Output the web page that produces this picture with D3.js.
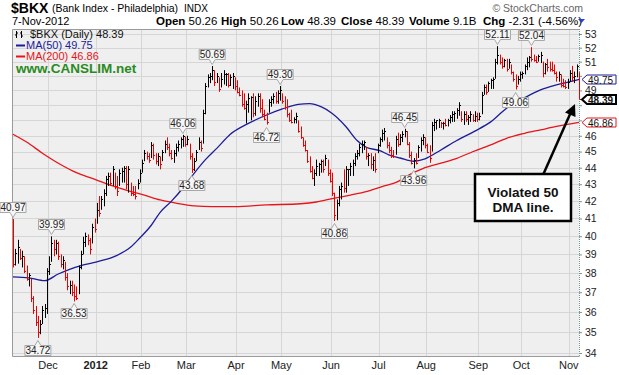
<!DOCTYPE html>
<html><head><meta charset="utf-8">
<script src="https://cdn.jsdelivr.net/npm/d3@7"></script>
<style>
body{margin:0;background:#fff}
svg{display:block;font-family:"Liberation Sans",Arial,sans-serif}
</style>
</head><body>
<svg id="c" width="619" height="375"></svg>
<script>
// ---------- DATA ----------
const firstDay = "2011-11-08", lastDay = "2012-11-07";
const holidays = ["2011-11-24","2011-12-26","2012-01-02","2012-01-16","2012-02-20","2012-04-06",
  "2012-05-28","2012-07-04","2012-09-03","2012-10-29","2012-10-30"];

const highs = [
40.97,39.3,39.8,39.3,39.2,38.9,38.4,38.0,37.7,36.8,36.3,35.8,35.6,36.3,36.4,38.26,
38.9,39.99,39.8,39.8,39.7,39.0,38.9,38.6,38.0,37.6,37.6,37.4,37.3,38.4,39.2,39.97,40.2,40.1,39.9,40.7,41.0,
41.9,42.3,42.3,42.7,43.5,43.7,43.7,44.1,43.7,43.5,43.9,44.0,44.1,44.1,44.1,43.1,42.9,42.9,43.3,43.9,
44.5,45.1,45.0,44.9,45.6,45.5,44.9,44.9,44.7,45.1,45.7,45.9,45.5,45.1,45.1,45.5,45.7,45.9,46.06,45.95,
46.0,45.5,44.9,44.6,45.1,45.9,45.7,47.7,49.5,50.1,50.2,50.69,50.4,50.2,49.9,50.2,50.4,50.2,50.2,50.1,50.2,49.9,
49.7,49.2,49.0,48.8,48.3,48.8,48.6,48.8,48.6,48.8,48.8,48.4,47.7,47.5,48.4,48.6,48.8,48.9,49.0,49.30,
48.8,48.6,48.4,47.5,47.7,47.2,47.5,47.0,46.6,45.9,45.7,45.1,44.7,44.1,43.9,44.5,44.3,44.5,44.5,44.8,44.5,43.9,
43.7,42.5,42.1,42.9,43.1,43.9,44.1,43.9,44.3,44.5,44.9,45.1,45.5,45.7,45.7,45.3,44.9,44.9,44.7,44.9,45.5,
45.9,46.4,46.5,45.9,45.6,45.3,45.1,46.0,46.2,46.1,46.3,46.45,46.3,45.6,45.0,44.6,44.9,45.4,45.9,46.1,45.9,
45.5,45.4,46.9,47.1,47.0,47.1,46.9,46.9,47.1,47.1,47.35,47.6,47.6,47.8,48.2,47.6,47.6,47.6,47.35,47.6,47.4,47.6,47.5,
47.5,48.9,49.4,49.4,49.6,49.8,49.9,51.2,52.11,51.5,51.3,51.2,51.2,51.2,50.8,50.3,50.1,50.0,50.3,
50.3,50.8,51.3,51.4,52.04,51.5,51.4,51.5,51.7,51.0,50.9,51.2,51.0,51.0,50.8,50.3,50.3,50.1,49.8,49.7,49.8,
50.4,50.7,50.3,50.8,50.26];

const lows = [
38.3,38.4,38.5,38.7,38.3,38.0,37.6,37.3,36.5,35.9,35.3,34.72,34.9,35.4,35.7,35.9,
37.9,38.6,38.9,39.0,38.7,38.3,38.2,37.6,37.1,36.9,36.8,36.53,36.6,36.9,38.2,39.0,39.4,39.5,39.0,39.6,40.2,
40.7,41.1,41.5,41.7,42.3,42.9,42.9,42.9,42.7,42.3,42.9,43.1,43.1,42.7,42.5,42.3,42.3,42.1,42.7,43.1,
43.7,44.4,44.5,44.3,44.6,44.5,44.2,44.1,43.9,44.4,44.9,45.1,44.7,44.5,44.3,44.7,45.0,45.2,45.3,45.3,
45.4,44.5,43.68,43.8,44.4,45.1,45.0,45.5,47.4,49.2,49.5,49.7,49.3,49.5,48.9,49.2,49.4,49.3,49.2,49.3,49.1,49.0,
48.8,48.6,47.9,47.7,46.8,47.5,47.0,47.2,47.3,47.9,47.5,47.2,47.0,46.72,47.5,47.9,48.1,48.1,48.1,48.3,
48.1,47.7,47.2,46.9,46.8,46.8,46.8,46.2,45.8,45.3,45.0,44.3,43.7,43.3,42.9,43.5,43.5,43.7,43.7,44.1,43.5,43.1,
42.3,40.86,40.9,41.7,42.1,42.5,42.5,42.9,43.5,43.5,44.1,44.5,44.7,44.9,45.1,44.5,44.1,43.9,43.8,43.7,44.9,
45.3,45.6,45.7,45.2,44.9,44.6,44.6,44.8,45.3,45.4,45.6,45.9,45.4,44.6,44.2,43.96,44.2,44.6,45.0,45.4,45.2,
44.9,44.3,45.0,46.3,46.4,46.5,46.5,46.4,46.6,46.6,46.8,46.9,46.9,47.1,47.3,46.9,46.7,46.9,46.7,46.9,46.9,46.9,46.9,
47.0,47.4,48.7,48.7,48.9,49.1,49.1,49.8,50.8,50.8,50.5,50.6,50.3,50.5,50.1,49.6,49.06,49.4,49.6,
49.8,50.1,50.4,50.6,51.0,51.0,50.9,51.0,50.9,49.9,50.1,50.3,50.3,50.3,50.1,49.6,49.6,49.2,49.2,49.1,49.1,
49.6,49.6,49.5,49.9,48.39];

const closes = [
38.5,39.1,39.4,38.8,38.9,38.1,37.7,37.9,36.7,36.1,35.5,35.0,35.4,36.1,36.2,38.1,
38.5,39.6,39.3,39.6,38.9,38.5,38.7,37.8,37.3,37.4,37.0,36.8,36.7,38.3,39.0,39.7,40.0,39.8,39.3,40.5,40.4,
41.5,41.3,42.1,42.5,43.3,43.5,43.1,43.9,42.9,42.6,43.7,43.8,44.0,43.0,43.9,42.5,42.4,42.3,43.1,43.7,
44.3,44.9,44.7,44.5,45.4,44.8,44.4,44.7,44.2,45.0,45.5,45.3,44.9,44.6,44.9,45.3,45.5,45.8,46.0,45.5,
45.8,44.7,43.9,44.4,45.0,45.6,45.2,47.5,49.3,49.9,50.0,50.4,49.6,50.0,49.1,49.8,50.1,50.15,49.4,49.9,50.0,49.3,
48.9,48.7,48.1,47.8,48.1,48.5,48.55,47.5,48.3,48.6,47.8,47.4,47.1,46.9,48.2,48.4,48.6,48.3,48.8,49.0,
48.3,47.9,47.4,47.0,46.9,47.1,47.3,46.3,45.9,45.4,45.1,44.4,43.8,43.4,43.7,44.1,44.2,44.4,43.9,44.6,43.7,43.2,
42.5,41.2,41.9,42.7,42.9,42.8,43.9,43.95,44.1,44.3,44.7,44.9,45.3,45.5,45.6,44.7,44.8,44.2,44.5,43.9,45.4,
45.8,46.2,46.3,45.4,45.1,44.8,44.7,45.8,45.5,45.9,46.1,46.3,45.5,44.8,44.3,44.5,44.3,45.3,45.7,45.9,45.4,
45.0,44.6,46.7,46.9,47.0,47.05,46.8,46.85,46.7,47.0,47.2,47.4,47.5,47.7,48.0,47.1,47.4,47.1,47.2,47.4,47.0,47.3,47.1,
47.3,48.7,49.2,48.9,49.5,49.7,49.8,51.0,51.5,51.0,50.7,51.1,50.5,51.0,50.3,49.8,49.3,49.8,50.1,
50.2,50.7,51.0,51.3,51.2,51.1,51.0,51.4,51.5,50.2,50.8,50.6,50.5,50.4,50.2,49.9,50.1,49.4,49.3,49.2,49.6,
50.2,49.9,50.0,50.70,48.39];

const ma50At  = [0,7,14,20,25,30,37,46,52,56,61,65,70,75,80,85,90,96,104,112,119,126,131,136,141,147,152,156,162,166,171,177,182,189,196,204,211,218,226,233,240,246,250];
const ma50    = [37.8,37.75,37.6,37.95,38.2,38.4,38.6,38.95,39.4,39.9,40.6,41.35,42.0,42.76,43.66,44.5,45.2,46.1,46.8,47.35,47.75,48.05,48.1,47.9,47.45,46.6,45.7,45.27,45.06,44.8,44.6,44.4,44.55,45.1,45.7,46.3,46.9,47.8,48.5,49.03,49.37,49.6,49.75];
const ma200At = [0,6,13,21,28,35,43,50,58,65,72,80,88,98,112,127,134,141,149,156,163,170,174,181,189,196,203,211,218,226,233,240,250];
const ma200   = [46.1,45.6,44.9,44.2,43.7,43.35,42.95,42.65,42.35,42.07,41.88,41.72,41.68,41.68,41.78,41.85,41.95,42.15,42.36,42.56,42.86,43.16,43.5,43.95,44.28,44.58,44.99,45.42,45.84,46.16,46.38,46.6,46.86];

const yTickValues = [34,35,36,37,38,39,40,41,42,43,44,45,46,47,48,49,50,51,52,53];
const monthNames = ["Dec","2012","Feb","Mar","Apr","May","Jun","Jul","Aug","Sep","Oct","Nov"];

const annIdx  = [0,11,17,27,75,79,88,112,118,142,173,177,214,222,229];
const annType = ["H","L","H","L","H","L","H","L","H","L","H","L","H","L","H"];

const headerLabels = ["Open","High","Low","Close","Volume","Chg"];
const headerValues = ["50.26","50.26","48.39","48.39","9.1B","-2.31 (-4.56%)"];
const lastValues = {close:48.39, ma50:49.75, ma200:46.86};

// ---------- TRADING DATES ----------
const parse = d3.utcParse("%Y-%m-%d"), fmt = d3.utcFormat("%Y-%m-%d");
const holSet = new Set(holidays);
const dates = d3.utcDay.range(parse(firstDay), d3.utcDay.offset(parse(lastDay),1))
  .filter(d => d.getUTCDay()!==0 && d.getUTCDay()!==6 && !holSet.has(fmt(d))).map(fmt);

// ---------- LAYOUT ----------
const svg = d3.select("#c");
const L = 12, R = 579, T = 29, B = 356;
const x = d3.scalePoint().domain(dates).range([13, 579]);
const y = d3.scaleLog().domain([34, 53]).range([353, 34]);
const step = x.step();

svg.append("rect").attr("width",619).attr("height",375).attr("fill","#fff");
svg.append("rect").attr("x",L).attr("y",T).attr("width",R-L).attr("height",B-T).attr("fill","#efefef");

// grid
const grid = svg.append("g").attr("stroke","#d6d6d6").attr("stroke-width",1);
grid.selectAll("line.h").data(yTickValues).join("line")
  .attr("x1",L).attr("x2",R).attr("y1",d=>Math.round(y(d))+0.5).attr("y2",d=>Math.round(y(d))+0.5);
const monthStarts = dates.filter((d,i)=> i>0 && d.slice(5,7)!==dates[i-1].slice(5,7));
grid.selectAll("line.v").data(monthStarts).join("line")
  .attr("x1",d=>Math.round(x(d)-step/2)+0.5).attr("x2",d=>Math.round(x(d)-step/2)+0.5)
  .attr("y1",T).attr("y2",B);

// border
svg.append("path").attr("d",`M${R+0.5},${B+0.5}H${L+0.5}V${T+0.5}H${R+0.5}`)
  .attr("fill","none").attr("stroke","#9a9a9a");
svg.append("line").attr("x1",R+0.5).attr("x2",R+0.5).attr("y1",T).attr("y2",B+1)
  .attr("stroke","#6f9a96").attr("stroke-dasharray","1,1");

// right axis (labels hidden behind the last-value tags are left out, as in the reference)
const tagVals = [lastValues.ma50, lastValues.close, lastValues.ma200];
const visibleTicks = yTickValues.filter(t => tagVals.every(v => Math.abs(y(t)-y(v)) > 8));
const ax = svg.append("g").attr("transform",`translate(${R},0)`)
  .call(d3.axisRight(y).tickValues(yTickValues).tickFormat(t => visibleTicks.includes(t) ? d3.format("d")(t) : "")
  .tickSize(3).tickPadding(3));
ax.select(".domain").remove();
ax.selectAll("line").attr("stroke","#6f9a96");
ax.selectAll("text").attr("font-size",10.5).attr("fill","#222").attr("font-family","Liberation Sans, Arial, sans-serif");

// month labels
svg.append("g").selectAll("text").data(monthStarts).join("text")
  .attr("x",d=>x(d)-step/2).attr("y",369).attr("text-anchor","middle")
  .attr("font-size",11).attr("fill","#222")
  .attr("font-weight",(d,i)=>monthNames[i]==="2012"?"bold":"normal")
  .text((d,i)=>monthNames[i]);

// moving averages
const line = d3.line().curve(d3.curveMonotoneX);
svg.append("path").attr("fill","none").attr("stroke","#e8141b").attr("stroke-width",1.3)
  .attr("d", line(ma200At.map((k,i)=>[x(dates[k]), y(ma200[i])])));
svg.append("path").attr("fill","none").attr("stroke","#1c1c99").attr("stroke-width",1.3)
  .attr("d", line(ma50At.map((k,i)=>[x(dates[k]), y(ma50[i])])));

// price bars
const bars = svg.append("g");
dates.forEach((d,i)=>{
  const up = i>0 && closes[i] > closes[i-1];
  const col = up ? "#000" : "#ee0000";
  const xx = Math.round(x(d))+0.5;
  bars.append("line").attr("x1",xx).attr("x2",xx)
    .attr("y1",y(highs[i])).attr("y2",y(lows[i])).attr("stroke",col).attr("stroke-width",1);
  bars.append("line").attr("x1",xx).attr("x2",xx+1.5)
    .attr("y1",Math.round(y(closes[i]))+0.5).attr("y2",Math.round(y(closes[i]))+0.5)
    .attr("stroke",col).attr("stroke-width",1);
});

// annotation boxes
const ann = svg.append("g");
annIdx.forEach((k,j)=>{
  const isH = annType[j]==="H";
  const v = isH ? highs[k] : lows[k];
  let cx = Math.max(12, x(dates[k]));
  const px = x(dates[k]);
  const w = 26, h = 10;
  let p;
  if (isH) {
    const yb = Math.round(y(v) - 7)+0.5;
    p = `M${cx-w/2},${yb-h}H${cx+w/2}V${yb}H${px+3}L${px},${yb+5}L${px-3},${yb}H${cx-w/2}Z`;
    ann.append("path").attr("d",p).attr("fill","#f6f6f6").attr("stroke","#a8a8a8");
    ann.append("text").attr("x",cx).attr("y",yb-1.5).attr("text-anchor","middle")
      .attr("font-size",10).attr("fill","#222").text(v.toFixed(2));
  } else {
    const yt = Math.round(y(v) + 7)+0.5;
    p = `M${cx-w/2},${yt}H${px-3}L${px},${yt-5}L${px+3},${yt}H${cx+w/2}V${yt+h}H${cx-w/2}Z`;
    ann.append("path").attr("d",p).attr("fill","#f6f6f6").attr("stroke","#a8a8a8");
    ann.append("text").attr("x",cx).attr("y",yt+h-1.5).attr("text-anchor","middle")
      .attr("font-size",10).attr("fill","#222").text(v.toFixed(2));
  }
});

// right value tags
function tag(v, col, sw, bold){
  const yc = Math.round(y(v))+0.5;
  svg.append("path").attr("d",`M${R+3},${yc}L${R+8},${yc-4.5}H616V${yc+4.5}H${R+8}Z`)
    .attr("fill","#fff").attr("stroke",col).attr("stroke-width",sw);
  svg.append("text").attr("x",R+9).attr("y",yc+4).attr("font-size",10)
    .attr("font-weight",bold?"bold":"normal").attr("fill","#111").text(v.toFixed(2));
}
tag(lastValues.ma50, "#1c1c99", 1, false);
tag(lastValues.ma200, "#e8141b", 1, false);
tag(lastValues.close, "#000", 2, true);

// legend inside plot
const lg = svg.append("g");
lg.append("path").attr("d","M16.5,31V38M15,35H16.5M16.5,33H18M21.5,31V38M20,33H21.5M21.5,36H23")
  .attr("stroke","#000").attr("fill","none");
lg.append("text").attr("x",30).attr("y",38).attr("font-size",11).attr("fill","#111")
  .text(`$BKX (Daily) ${closes[closes.length-1].toFixed(2)}`);
lg.append("line").attr("x1",16).attr("x2",25).attr("y1",45.5).attr("y2",45.5).attr("stroke","#1c1c99").attr("stroke-width",2);
lg.append("text").attr("x",26).attr("y",49).attr("font-size",11).attr("fill","#1c1c99").text(`MA(50) ${lastValues.ma50.toFixed(2)}`);
lg.append("line").attr("x1",16).attr("x2",25).attr("y1",56.5).attr("y2",56.5).attr("stroke","#e8141b").attr("stroke-width",2);
lg.append("text").attr("x",26).attr("y",60).attr("font-size",11).attr("fill","#e8141b").text(`MA(200) ${lastValues.ma200.toFixed(2)}`);
lg.append("text").attr("x",16).attr("y",73).attr("font-size",13.5).attr("font-weight","bold")
  .attr("fill","#2a8a22").text("www.CANSLIM.net");

// header
svg.append("text").attr("x",11).attr("y",13).attr("font-size",14).attr("font-weight","bold").attr("fill","#000").text("$BKX");
svg.append("text").attr("x",52).attr("y",12).attr("font-size",10.5).attr("fill","#000").text("(Bank Index - Philadelphia)");
svg.append("text").attr("x",184).attr("y",12).attr("font-size",10).attr("fill","#000").text("INDX");
svg.append("text").attr("x",583).attr("y",12).attr("font-size",10.5).attr("fill","#666").attr("text-anchor","end").text("© StockCharts.com");
svg.append("text").attr("x",12).attr("y",25).attr("font-size",11).attr("fill","#000").text("7-Nov-2012");
const hx = [156,221,281,341,409,483];
headerLabels.forEach((lab,i)=>{
  const t = svg.append("text").attr("x",hx[i]).attr("y",25).attr("font-size",11.5).attr("fill","#000");
  t.append("tspan").attr("font-weight","bold").text(lab);
  t.append("tspan").text(" " + headerValues[i]);
});
svg.append("path").attr("d","M578,19H585L581.5,23Z").attr("fill","#2244cc");

// callout
svg.append("line").attr("x1",543).attr("y1",175).attr("x2",571).attr("y2",112)
  .attr("stroke","#000").attr("stroke-width",2.5);
svg.append("path").attr("d","M575,104L575.5,117L565,112.5Z").attr("fill","#000");
svg.append("rect").attr("x",475).attr("y",174).attr("width",96).attr("height",47)
  .attr("fill","#fff").attr("stroke","#000").attr("stroke-width",2.5);
svg.append("text").attr("x",523).attr("y",197).attr("text-anchor","middle").attr("font-size",13.5)
  .attr("font-weight","bold").attr("fill","#111").text("Violated 50");
svg.append("text").attr("x",523).attr("y",212).attr("text-anchor","middle").attr("font-size",13.5)
  .attr("font-weight","bold").attr("fill","#111").text("DMA line.");
</script>
</body></html>
